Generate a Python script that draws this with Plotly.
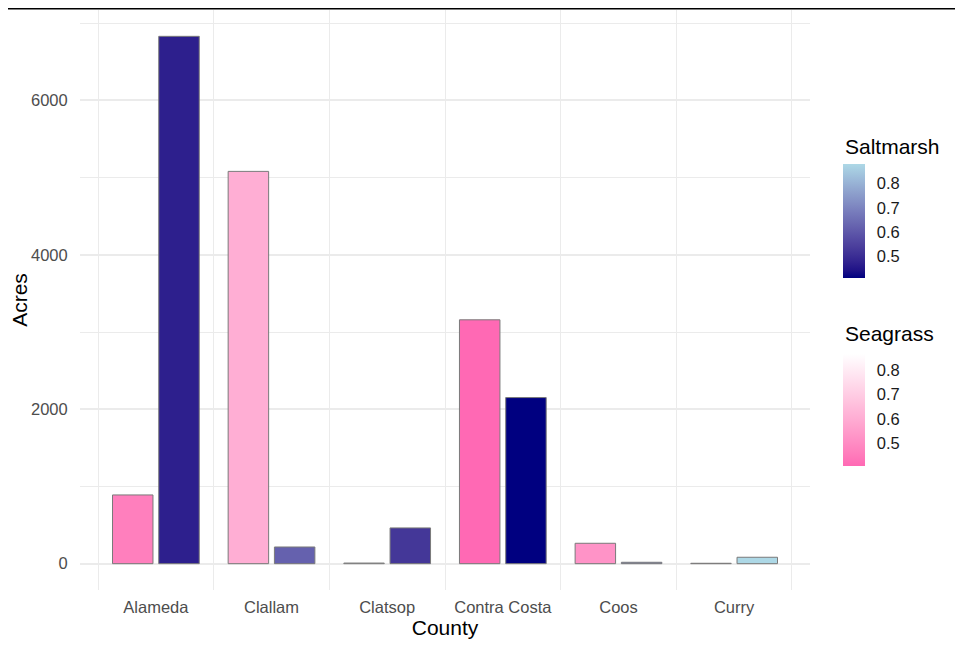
import plotly.graph_objects as go

# datos
counties = ["Alameda", "Clallam", "Clatsop", "Contra Costa", "Coos", "Curry"]
seagrass_acres = [890, 5080, 8, 3158, 264, 5]
saltmarsh_acres = [6829, 216, 463, 2151, 18, 83]
seagrass_fill = [0.465, 0.606, 0.868, 0.408, 0.525, 0.75]
saltmarsh_fill = [0.470, 0.620, 0.523, 0.411, 0.70, 0.879]
legend_ticks = [0.5, 0.6, 0.7, 0.8]


# interpolacion en espacio Lab (como scale_fill_gradient de ggplot)
def hex_to_lab(h):
    h = h.lstrip("#")
    rgb = [int(h[i:i + 2], 16) / 255 for i in (0, 2, 4)]
    lin = [c / 12.92 if c <= 0.04045 else ((c + 0.055) / 1.055) ** 2.4 for c in rgb]
    x = (0.4124 * lin[0] + 0.3576 * lin[1] + 0.1805 * lin[2]) / 0.95047
    y = 0.2126 * lin[0] + 0.7152 * lin[1] + 0.0722 * lin[2]
    z = (0.0193 * lin[0] + 0.1192 * lin[1] + 0.9505 * lin[2]) / 1.08883
    f = lambda t: t ** (1 / 3) if t > 0.008856 else 7.787 * t + 16 / 116
    fx, fy, fz = f(x), f(y), f(z)
    return (116 * fy - 16, 500 * (fx - fy), 200 * (fy - fz))


def lab_to_hex(lab):
    L, a, b = lab
    fy = (L + 16) / 116
    fx = fy + a / 500
    fz = fy - b / 200
    g = lambda t: t ** 3 if t ** 3 > 0.008856 else (t - 16 / 116) / 7.787
    x, y, z = g(fx) * 0.95047, g(fy), g(fz) * 1.08883
    r = 3.2406 * x - 1.5372 * y - 0.4986 * z
    gg = -0.9689 * x + 1.8758 * y + 0.0415 * z
    bb = 0.0557 * x - 0.2040 * y + 1.0570 * z
    out = []
    for c in (r, gg, bb):
        c = 12.92 * c if c <= 0.0031308 else 1.055 * c ** (1 / 2.4) - 0.055
        out.append(max(0, min(255, round(c * 255))))
    return "#%02X%02X%02X" % tuple(out)


def lab_scale(lo, hi, n=15):
    a, b = hex_to_lab(lo), hex_to_lab(hi)
    return [[i / (n - 1), lab_to_hex([a[k] + (b[k] - a[k]) * i / (n - 1) for k in range(3)])]
            for i in range(n)]


def barra_color(y_centro, largo):
    return dict(
        x=1.0456, xanchor="left", y=y_centro, yanchor="middle",
        len=largo, lenmode="pixels", thickness=22, outlinewidth=0,
        ticks="outside", ticklen=9, tickcolor="rgba(0,0,0,0)",
        tickvals=legend_ticks, tickfont=dict(size=16.5, color="#1A1A1A"),
        xpad=0, ypad=0,
    )


FONT = "Liberation Sans, Arial, sans-serif"
GRID = "#EBEBEB"

fig = go.Figure()

fig.add_trace(go.Bar(
    x=counties, y=seagrass_acres, name="Seagrass",
    offset=-0.375, width=0.35,
    marker=dict(
        color=seagrass_fill, colorscale=lab_scale("#FF69B4", "#FFFFFF"),
        line=dict(color="#7A7A7A", width=1),
        colorbar=barra_color(0.311, 112),
    ),
    showlegend=False,
))

fig.add_trace(go.Bar(
    x=counties, y=saltmarsh_acres, name="Saltmarsh",
    offset=0.025, width=0.35,
    marker=dict(
        color=saltmarsh_fill, colorscale=lab_scale("#000080", "#ADD8E6"),
        line=dict(color="#7A7A7A", width=1),
        colorbar=barra_color(0.636, 114),
    ),
    showlegend=False,
))

# titulos de las leyendas
for texto, y in [("Saltmarsh", 0.7655), ("Seagrass", 0.443)]:
    fig.add_annotation(text=texto, xref="paper", yref="paper", x=1.0456, y=y,
                       xanchor="left", yanchor="middle", showarrow=False,
                       font=dict(size=21, color="#000000"))

fig.update_layout(
    width=955, height=642,
    margin=dict(l=72, r=153, t=2, b=60),
    barmode="overlay",
    plot_bgcolor="white", paper_bgcolor="white",
    font=dict(family=FONT),
    shapes=[dict(type="line", xref="paper", yref="paper",
                 x0=-0.12, x1=1.22, y0=1.0026, y1=1.0026,
                 line=dict(color="black", width=2))],
)

fig.update_xaxes(
    type="category", range=[-0.656, 5.656], automargin=False,
    tickson="boundaries", showgrid=True, gridcolor=GRID, gridwidth=1,
    ticks="", ticklabelstandoff=5,
    tickfont=dict(size=16.5, color="#4D4D4D"),
    title=dict(text="County", font=dict(size=21, color="#000000"), standoff=5),
    zeroline=False, showline=False,
)

fig.update_yaxes(
    range=[-341, 7170], tickvals=[0, 2000, 4000, 6000], automargin=False,
    showgrid=True, gridcolor=GRID, gridwidth=1.6,
    minor=dict(dtick=1000, tick0=0, showgrid=True, gridcolor=GRID, gridwidth=0.8),
    ticks="outside", ticklen=8, tickcolor="rgba(0,0,0,0)",
    tickfont=dict(size=16.5, color="#4D4D4D"),
    title=dict(text="Acres", font=dict(size=21, color="#000000"), standoff=12),
    zeroline=False, showline=False,
)

fig.write_html("out.html")
